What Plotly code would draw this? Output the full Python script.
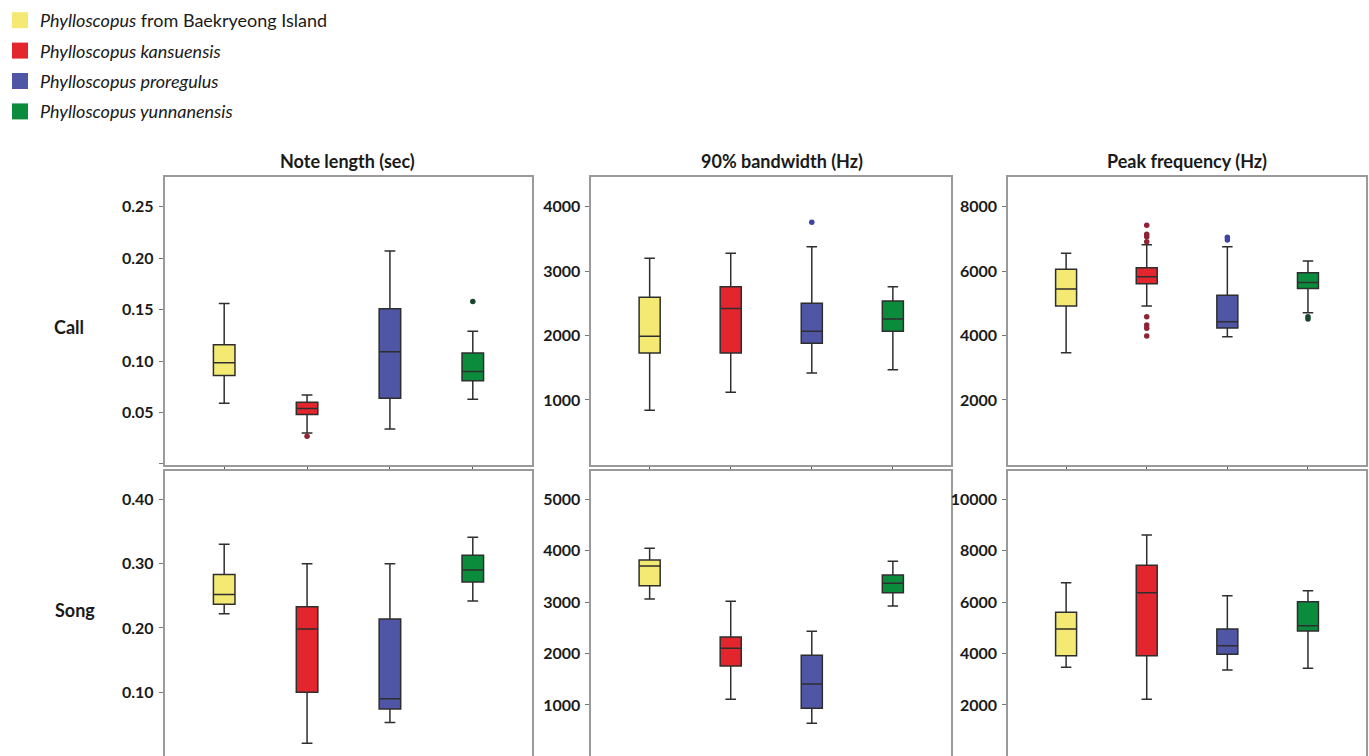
import plotly.graph_objects as go

W, H = 1369, 756

species = ["<i>Phylloscopus</i> from Baekryeong Island",
           "<i>Phylloscopus kansuensis</i>",
           "<i>Phylloscopus proregulus</i>",
           "<i>Phylloscopus yunnanensis</i>"]
fill_colors = ["#f4ea73", "#e3262e", "#4f56a5", "#0b8c3d"]
outlier_colors = ["#8a8a3a", "#8e2333", "#3d45a0", "#17472c"]

panel_titles = ["Note length (sec)", "90% bandwidth (Hz)", "Peak frequency (Hz)"]
row_labels = ["Call", "Song"]

# Each stat list: [yellow, red, blue, green]
# Call - note length (sec)
call_len_lower = [0.059, 0.030, 0.034, 0.063]
call_len_q1 = [0.086, 0.048, 0.064, 0.081]
call_len_med = [0.0985, 0.054, 0.109, 0.090]
call_len_q3 = [0.116, 0.060, 0.151, 0.108]
call_len_upper = [0.156, 0.067, 0.207, 0.129]
call_len_out = [[], [0.027], [], [0.158]]

# Call - 90% bandwidth (Hz)
call_bw_lower = [840, 1120, 1420, 1470]
call_bw_q1 = [1730, 1730, 1880, 2065]
call_bw_med = [1990, 2420, 2065, 2256]
call_bw_q3 = [2595, 2758, 2500, 2536]
call_bw_upper = [3200, 3276, 3379, 2758]
call_bw_out = [[], [], [3758], []]

# Call - peak frequency (Hz)
call_pf_lower = [3468, 4917, 3966, 4710]
call_pf_q1 = [4917, 5610, 4237, 5464]
call_pf_med = [5445, 5827, 4432, 5650]
call_pf_q3 = [6056, 6107, 5250, 5950]
call_pf_upper = [6553, 6820, 6758, 6314]
call_pf_out = [[], [7422, 7143, 7070, 6914, 4586, 4328, 4225, 3987], [7050, 6966], [4586, 4514]]

# Song - note length (sec)
song_len_lower = [0.222, 0.021, 0.053, 0.242]
song_len_q1 = [0.237, 0.100, 0.074, 0.2715]
song_len_med = [0.252, 0.1985, 0.090, 0.290]
song_len_q3 = [0.283, 0.233, 0.214, 0.313]
song_len_upper = [0.330, 0.300, 0.300, 0.341]
song_len_out = [[], [], [], []]

# Song - 90% bandwidth (Hz)
song_bw_lower = [3061, 1110, 643, 2925]
song_bw_q1 = [3320, 1758, 935, 3183]
song_bw_med = [3703, 2102, 1408, 3366]
song_bw_q3 = [3819, 2322, 1966, 3528]
song_bw_upper = [4047, 3016, 2433, 3794]
song_bw_out = [[], [], [], []]

# Song - peak frequency (Hz)
song_pf_lower = [3465, 2220, 3360, 3426]
song_pf_q1 = [3916, 3916, 3970, 4877]
song_pf_med = [4955, 6367, 4305, 5083]
song_pf_q3 = [5604, 7433, 4955, 6017]
song_pf_upper = [6756, 8611, 6250, 6445]
song_pf_out = [[], [], [], []]

panels = [
    (call_len_lower, call_len_q1, call_len_med, call_len_q3, call_len_upper, call_len_out),
    (call_bw_lower, call_bw_q1, call_bw_med, call_bw_q3, call_bw_upper, call_bw_out),
    (call_pf_lower, call_pf_q1, call_pf_med, call_pf_q3, call_pf_upper, call_pf_out),
    (song_len_lower, song_len_q1, song_len_med, song_len_q3, song_len_upper, song_len_out),
    (song_bw_lower, song_bw_q1, song_bw_med, song_bw_q3, song_bw_upper, song_bw_out),
    (song_pf_lower, song_pf_q1, song_pf_med, song_pf_q3, song_pf_upper, song_pf_out),
]

y_ranges = [[-0.001, 0.279], [-9, 4461], [-18, 8922],
            [0.001, 0.444], [8, 5550], [16, 11101]]
y_ticks = [[0, 0.05, 0.10, 0.15, 0.20, 0.25],
           [1000, 2000, 3000, 4000],
           [2000, 4000, 6000, 8000],
           [0.10, 0.20, 0.30, 0.40],
           [1000, 2000, 3000, 4000, 5000],
           [2000, 4000, 6000, 8000, 10000]]
y_ticktext = [["", "0.05", "0.10", "0.15", "0.20", "0.25"],
              ["1000", "2000", "3000", "4000"],
              ["2000", "4000", "6000", "8000"],
              ["0.10", "0.20", "0.30", "0.40"],
              ["1000", "2000", "3000", "4000", "5000"],
              ["2000", "4000", "6000", "8000", "10000"]]

# pixel layout of panels
col_px = [(161, 530), (589, 950), (1007, 1366)]
row_px = [(177, 465), (471, 756)]

FONT = "Lato, 'Open Sans', sans-serif"
fig = go.Figure()
layout = {}

for p, (lo, q1, med, q3, up, outs) in enumerate(panels):
    r, c = divmod(p, 3)
    idx = p + 1
    xa = "x" if idx == 1 else f"x{idx}"
    ya = "y" if idx == 1 else f"y{idx}"
    for k in range(4):
        fig.add_trace(go.Box(
            x=[k], q1=[q1[k]], median=[med[k]], q3=[q3[k]],
            lowerfence=[lo[k]], upperfence=[up[k]],
            width=0.26, whiskerwidth=0.5,
            fillcolor=fill_colors[k],
            line=dict(color="#2e2e2e", width=1.5),
            boxpoints=False, showlegend=False, hoverinfo="skip",
            xaxis=xa, yaxis=ya))
        if outs[k]:
            fig.add_trace(go.Scatter(
                x=[k] * len(outs[k]), y=outs[k], mode="markers",
                marker=dict(color=outlier_colors[k], size=5.5),
                showlegend=False, hoverinfo="skip", xaxis=xa, yaxis=ya))
    x0, x1 = col_px[c]
    y0, y1 = row_px[r]
    if r == 0:
        xax = dict(tickvals=[0, 1, 2, 3], showticklabels=False, ticks="outside",
                   ticklen=3, tickcolor="#555", tickwidth=1, mirror=True)
    else:
        # bottom row is cut off by the image edge: only the top frame line shows
        xax = dict(side="top", showticklabels=False, ticks="", mirror=False)
    layout["xaxis" if idx == 1 else f"xaxis{idx}"] = dict(
        domain=[x0 / W, x1 / W], anchor=ya, range=[-0.72, 3.72],
        showline=True, linecolor="#9a9a9a", linewidth=1.6,
        showgrid=False, zeroline=False, fixedrange=True, **xax)
    layout["yaxis" if idx == 1 else f"yaxis{idx}"] = dict(
        domain=[1 - y1 / H, 1 - y0 / H], anchor=xa, range=y_ranges[p],
        tickvals=y_ticks[p], ticktext=y_ticktext[p], ticks="outside",
        ticklen=4, tickcolor="#777", tickwidth=1, ticklabelstandoff=2,
        tickfont=dict(family=FONT, size=16, color="#1a1a1a", weight="bold"),
        showline=True, mirror=True, linecolor="#9a9a9a", linewidth=1.6,
        showgrid=False, zeroline=False, fixedrange=True)

for k in range(4):
    fig.add_trace(go.Scatter(
        x=[None], y=[None], mode="markers", name=species[k],
        marker=dict(symbol="square", size=18, color=fill_colors[k]),
        legendgroup=f"g{k}", showlegend=True))

annotations = []
title_px = [345, 780, 1186]
for t, xp in zip(panel_titles, title_px):
    annotations.append(dict(text=t, x=xp / W, y=1 - 161 / H, xref="paper", yref="paper",
                            showarrow=False, xanchor="center", yanchor="middle",
                            font=dict(family=FONT, size=18, color="#1a1a1a", weight="bold")))
for t, (xp, yp) in zip(row_labels, [(65, 327), (71, 610)]):
    annotations.append(dict(text=t, x=xp / W, y=1 - yp / H, xref="paper", yref="paper",
                            showarrow=False, xanchor="center", yanchor="middle",
                            font=dict(family=FONT, size=18, color="#1a1a1a", weight="bold")))

fig.update_layout(
    width=W, height=H, margin=dict(l=0, r=0, t=0, b=0),
    paper_bgcolor="white", plot_bgcolor="white",
    showlegend=True,
    legend=dict(x=-0.003, y=1 - 2 / H, xanchor="left", yanchor="top",
                font=dict(family=FONT, size=18, color="#1a1a1a"),
                tracegroupgap=4, bgcolor="rgba(0,0,0,0)"),
    annotations=annotations,
    **layout)

fig.write_html("out.html", config={"displayModeBar": False},
               post_script="document.body.style.margin='0';document.body.style.overflow='hidden';")
